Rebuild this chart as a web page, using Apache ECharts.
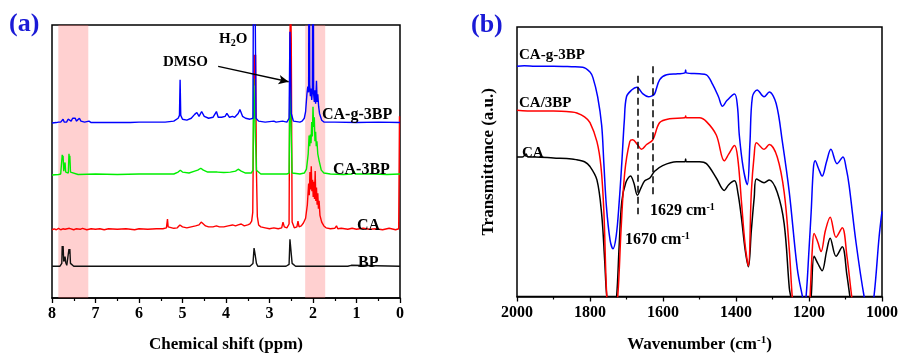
<!DOCTYPE html>
<html>
<head>
<meta charset="utf-8">
<script src="https://cdn.jsdelivr.net/npm/echarts@6/dist/echarts.min.js"></script>
<style>
  html, body { margin: 0; padding: 0; background: #fff; }
  #chart { width: 901px; height: 358px; }
</style>
</head>
<body>
<div id="chart"></div>
<script>
// ---------- (a) 1H NMR spectra: [chemical shift (ppm), intensity above baseline] ----------
const nmrOffsets = { BP: 33, CA: 71, CA3BP: 128, CAg3BP: 182 };

const nmrBP = [
  [8.0, 0], [7.82, 0], [7.79, 1], [7.775, 3], [7.765, 21], [7.755, 16], [7.745, 21], [7.73, 5],
  [7.715, 4], [7.70, 10], [7.685, 4], [7.66, 1], [7.625, 2], [7.61, 18], [7.60, 13], [7.59, 18],
  [7.575, 3], [7.55, 1], [7.5, 0], [6.0, 0], [4.0, 0], [3.45, 0], [3.41, 1], [3.38, 3], [3.355, 19],
  [3.34, 15], [3.325, 17], [3.30, 3], [3.27, 0], [2.62, 0], [2.58, 1], [2.55, 2], [2.53, 28],
  [2.515, 26], [2.50, 27], [2.48, 3], [2.45, 1], [2.40, 0], [1.2, 0], [1.12, 1], [1.10, 0], [0, 0]
];

const nmrCA = [
  [8.0, 0], [7.95, 1], [7.9, 0], [7.85, 1.5], [7.8, 0], [7.75, 1], [7.7, 0.5], [7.6, 1.5], [7.5, 0],
  [7.45, 1], [7.35, 0.5], [7.3, 1.5], [7.2, 0], [7.1, 1], [7.0, 0.5], [6.9, 1], [6.8, 0], [6.7, 1],
  [6.5, 0.5], [6.3, 1], [6.1, 0], [6.0, 1], [5.8, 0.5], [5.6, 1], [5.45, 1], [5.37, 2], [5.345, 11],
  [5.33, 3], [5.3, 1], [5.2, 1.5], [5.12, 2], [5.06, 5], [5.0, 3], [4.9, 2], [4.8, 3], [4.7, 4],
  [4.62, 5], [4.57, 8], [4.53, 7], [4.47, 4], [4.4, 3], [4.3, 3], [4.22, 4], [4.15, 3], [4.05, 3],
  [3.95, 4], [3.85, 5], [3.78, 4], [3.72, 5], [3.65, 6], [3.58, 4], [3.5, 5], [3.45, 6], [3.41, 9],
  [3.385, 18], [3.365, 120], [3.35, 182], [3.335, 150], [3.32, 182], [3.30, 60], [3.28, 14],
  [3.25, 5], [3.2, 3], [3.1, 2], [3.0, 1], [2.9, 2], [2.8, 1], [2.72, 2], [2.69, 8], [2.66, 3],
  [2.6, 2], [2.55, 6], [2.53, 200], [2.515, 240], [2.50, 200], [2.48, 8], [2.43, 2], [2.37, 3],
  [2.345, 9], [2.32, 3], [2.27, 4], [2.22, 7], [2.17, 12], [2.13, 26], [2.10, 48], [2.085, 36],
  [2.07, 60], [2.055, 42], [2.04, 66], [2.025, 40], [2.01, 52], [1.995, 34], [1.98, 50], [1.965, 32],
  [1.95, 61], [1.935, 30], [1.92, 44], [1.905, 26], [1.89, 38], [1.875, 22], [1.86, 30], [1.84, 15],
  [1.80, 8], [1.75, 4], [1.7, 2], [1.6, 1], [1.5, 1.5], [1.46, 4], [1.43, 1], [1.35, 1.5], [1.2, 0.5],
  [1.1, 1.5], [1.0, 0.5], [0.85, 1.5], [0.7, 0.5], [0.55, 1], [0.4, 0], [0.25, 1.5], [0.1, 0],
  [0.03, 1], [0.012, 118], [0.0, 118]
];

const nmrCA3BP = [
  [8.0, 0], [7.85, 0.5], [7.8, 1], [7.775, 3], [7.765, 21], [7.755, 17], [7.745, 20], [7.73, 4],
  [7.715, 3], [7.70, 13], [7.685, 3], [7.65, 1], [7.625, 2], [7.61, 22], [7.60, 17], [7.59, 20],
  [7.575, 3], [7.55, 1], [7.4, 0.5], [7.0, 1], [6.5, 0.5], [6.0, 1], [5.5, 1], [5.2, 1], [5.1, 3],
  [5.05, 5], [5.0, 3], [4.85, 2], [4.72, 4], [4.65, 5], [4.58, 7], [4.52, 5], [4.42, 3], [4.3, 3],
  [4.2, 3], [4.05, 2.5], [3.9, 3], [3.78, 4], [3.72, 6], [3.65, 4], [3.55, 2], [3.42, 2], [3.38, 5],
  [3.365, 100], [3.32, 100], [3.30, 5], [3.2, 1], [3.0, 1], [2.8, 1], [2.6, 1], [2.55, 2],
  [2.53, 100], [2.50, 100], [2.48, 2], [2.3, 1], [2.2, 2], [2.15, 6], [2.11, 22], [2.09, 41],
  [2.075, 30], [2.06, 42], [2.045, 33], [2.03, 55], [2.015, 40], [2.0, 71], [1.985, 50], [1.97, 60],
  [1.955, 35], [1.94, 45], [1.925, 30], [1.91, 35], [1.89, 22], [1.86, 15], [1.81, 5], [1.75, 2],
  [1.6, 1], [1.3, 0.5], [1.1, 1], [1.06, 4], [1.03, 1], [0.6, 1], [0.3, 0.5], [0, 1]
];

const nmrCAg3BP = [
  [8.0, 0], [7.9, 0.5], [7.85, 1], [7.825, 3], [7.8, 1], [7.765, 2], [7.745, 4], [7.72, 1],
  [7.69, 3], [7.665, 1], [7.63, 4], [7.61, 2], [7.585, 5], [7.56, 2], [7.525, 5], [7.5, 3],
  [7.465, 5], [7.44, 2], [7.405, 4], [7.37, 5], [7.335, 2], [7.3, 3], [7.25, 1], [7.15, 2],
  [7.1, 0.5], [7.0, 0.5], [6.5, 0.5], [6.2, 0.5], [6.0, 1], [5.5, 1], [5.4, 1], [5.2, 2], [5.1, 5],
  [5.07, 8], [5.055, 45], [5.04, 8], [5.0, 4], [4.9, 3], [4.8, 5], [4.72, 9], [4.67, 11], [4.62, 7],
  [4.56, 12], [4.5, 7], [4.4, 5], [4.3, 6], [4.22, 12], [4.18, 6], [4.1, 6], [4.02, 7], [3.98, 10],
  [3.92, 6], [3.85, 7], [3.8, 6], [3.72, 10], [3.68, 14], [3.62, 7], [3.55, 5], [3.45, 4],
  [3.38, 5], [3.36, 300], [3.33, 300], [3.31, 5], [3.25, 2], [3.1, 1], [2.9, 2], [2.85, 1],
  [2.7, 2], [2.6, 1], [2.55, 5], [2.53, 95], [2.515, 97], [2.5, 10], [2.45, 2], [2.3, 1],
  [2.25, 2], [2.2, 5], [2.17, 12], [2.14, 30], [2.12, 38], [2.10, 32], [2.09, 300], [2.075, 40],
  [2.06, 28], [2.045, 36], [2.03, 24], [2.015, 32], [2.0, 300], [1.985, 30], [1.97, 22],
  [1.955, 34], [1.94, 20], [1.92, 44], [1.905, 22], [1.89, 30], [1.87, 17], [1.85, 10], [1.8, 3],
  [1.75, 1], [1.5, 1], [1.0, 0.5], [0.5, 1], [0, 0.5]
];

// Highlighted aromatic / acetyl regions (ppm)
const nmrBands = [[7.855, 7.166], [2.18, 1.72]];

// DMSO arrow (ppm, a.u.)
const dmsoArrow = [[4.18, 241], [2.56, 225]];

// ---------- (b) FTIR spectra: [wavenumber (cm-1), transmittance (a.u.)] ----------
const ftirCAg3BP = [
  [2000, 241], [1980, 241.5], [1950, 241], [1900, 241], [1850, 240.5], [1820, 240], [1800, 235],
  [1792, 229], [1779, 209], [1768, 179], [1762, 139], [1755, 94], [1745, 59], [1737, 50],
  [1728, 64], [1720, 99], [1713, 139], [1706, 184], [1700, 209], [1686, 216], [1672, 219],
  [1655, 212], [1640, 209], [1630, 210], [1623, 212], [1609, 227], [1590, 232], [1560, 233],
  [1540, 234], [1538, 237], [1536, 234], [1500, 233], [1481, 232], [1464, 222], [1448, 209],
  [1437, 199], [1425, 205], [1404, 212], [1396, 199], [1391, 169], [1380, 134], [1369, 117],
  [1362, 159], [1355, 209], [1342, 216], [1323, 209], [1309, 214], [1290, 202], [1273, 162],
  [1254, 109], [1232, 29], [1218, 0], [1213, -8], [1208, 0], [1200, 49], [1194, 89], [1188, 134],
  [1183, 142], [1174, 134], [1164, 126], [1152, 141], [1140, 154], [1123, 139], [1107, 146],
  [1098, 134], [1090, 116], [1071, 56], [1049, 0], [1040, -11], [1030, -11], [1022, 0],
  [1008, 62], [1000, 89]
];

const ftirCA3BP = [
  [2000, 195], [1950, 194], [1900, 194], [1850, 193], [1836, 192], [1815, 188], [1800, 182],
  [1781, 162], [1770, 136], [1762, 89], [1754, 0], [1745, -31], [1735, -31], [1724, 0],
  [1715, 69], [1705, 129], [1691, 162], [1683, 164], [1670, 159], [1659, 154], [1645, 159],
  [1628, 164], [1609, 182], [1582, 186], [1540, 187], [1538, 189], [1536, 187], [1500, 187],
  [1481, 183], [1454, 169], [1432, 142], [1420, 149], [1404, 158], [1395, 144], [1385, 99],
  [1375, 54], [1366, 32], [1358, 109], [1350, 149], [1344, 161], [1323, 154], [1309, 159],
  [1287, 146], [1268, 109], [1254, 49], [1246, 0], [1240, -21], [1200, -21], [1197, 0],
  [1191, 49], [1186, 66], [1176, 57], [1167, 47], [1155, 69], [1142, 83], [1126, 62], [1109, 72],
  [1096, 42], [1083, 0], [1075, -21], [1000, -21]
];

const ftirCA = [
  [2000, 146], [1985, 146], [1975, 149], [1970, 146], [1950, 146], [1900, 145], [1850, 144],
  [1836, 143], [1815, 141], [1800, 136], [1781, 122], [1768, 86], [1760, 39], [1754, 0],
  [1745, -21], [1735, -21], [1727, 0], [1720, 54], [1713, 99], [1702, 119], [1689, 126],
  [1680, 119], [1670, 106], [1660, 114], [1650, 121], [1636, 124], [1623, 131], [1601, 137],
  [1563, 141], [1540, 141], [1538, 144], [1536, 141], [1500, 141], [1481, 139], [1454, 124],
  [1432, 111], [1420, 117], [1404, 121], [1395, 109], [1385, 82], [1375, 49], [1366, 31],
  [1358, 69], [1350, 104], [1344, 123], [1323, 119], [1309, 122], [1287, 109], [1268, 76],
  [1254, 9], [1250, 0], [1240, -21], [1200, -21], [1194, 0], [1186, 42], [1175, 34], [1164, 27],
  [1152, 47], [1142, 61], [1126, 42], [1109, 52], [1096, 22], [1088, 0], [1080, -21], [1000, -21]
];

// Marked band positions (cm-1) with dashed guide extents (a.u.)
const ftirGuides = [[1670, 231, 86], [1629, 241, 106]];

const nmrTicks = { min: 0, max: 8, step: 1 };
const ftirTicks = { min: 1000, max: 2000, step: 200 };

// ---------- chart ----------
const serif = 'Liberation Serif';
const BLACK = '#000';

function shift(data, off) {
  return data.map(p => [p[0], p[1] + off]);
}

function nmrSeries(name, data, off, color) {
  return {
    name, type: 'line', xAxisIndex: 0, yAxisIndex: 0,
    data: shift(data, off), showSymbol: false, symbol: 'none',
    lineStyle: { color, width: 1.4 }, clip: true, animation: false, z: 2
  };
}

function ftirSeries(name, data, color) {
  return {
    name, type: 'line', xAxisIndex: 1, yAxisIndex: 1,
    data, showSymbol: false, symbol: 'none', smooth: 0.35,
    lineStyle: { color, width: 1.5 }, clip: true, animation: false, z: 2
  };
}

const supRich = {
  sup: { fontSize: 10, fontWeight: 'bold', fontFamily: serif, verticalAlign: 'top', padding: [0, 0, 8, 0] },
  sub: { fontSize: 10, fontWeight: 'bold', fontFamily: serif, verticalAlign: 'bottom', padding: [8, 0, 0, 0] }
};

function label(x, y, text, size, color) {
  return {
    type: 'text', left: x, top: y - size / 2 - 1, z: 100,
    style: {
      text, fontFamily: serif, fontWeight: 'bold', fontSize: size, fill: color || BLACK,
      rich: supRich
    }
  };
}

const axisLabelStyle = {
  fontFamily: serif, fontWeight: 'bold', fontSize: 16, color: BLACK, margin: 8,
  formatter: v => String(v)
};
const axisNameStyle = { fontFamily: serif, fontWeight: 'bold', fontSize: 17, color: BLACK, rich: {
  sup: { fontSize: 11, fontWeight: 'bold', fontFamily: serif, verticalAlign: 'top', padding: [0, 0, 9, 0] }
} };

const option = {
  backgroundColor: '#fff',
  animation: false,
  grid: [
    { left: 52, top: 25, width: 348, height: 284, show: true, borderColor: BLACK, borderWidth: 1.5, backgroundColor: 'transparent' },
    { left: 517, top: 27, width: 366, height: 282, show: true, borderColor: BLACK, borderWidth: 1.5, backgroundColor: 'transparent' }
  ],
  xAxis: [
    {
      type: 'value', gridIndex: 0, min: nmrTicks.min, max: nmrTicks.max, interval: nmrTicks.step, inverse: true,
      name: 'Chemical shift (ppm)', nameLocation: 'middle', nameGap: 38, nameTextStyle: axisNameStyle,
      axisLine: { show: true, lineStyle: { color: BLACK, width: 1.5 } },
      axisTick: { show: true, inside: false, length: 5, lineStyle: { color: BLACK, width: 1.3 } },
      minorTick: { show: true, splitNumber: 2, length: 3, lineStyle: { color: BLACK, width: 1.2 } },
      axisLabel: axisLabelStyle, splitLine: { show: false }
    },
    {
      type: 'value', gridIndex: 1, min: ftirTicks.min, max: ftirTicks.max, interval: ftirTicks.step, inverse: true,
      name: 'Wavenumber (cm{sup|-1})', nameLocation: 'middle', nameGap: 38, nameTextStyle: axisNameStyle,
      axisLine: { show: true, lineStyle: { color: BLACK, width: 1.5 } },
      axisTick: { show: true, inside: false, length: 5, lineStyle: { color: BLACK, width: 1.3 } },
      minorTick: { show: true, splitNumber: 2, length: 3, lineStyle: { color: BLACK, width: 1.2 } },
      axisLabel: axisLabelStyle, splitLine: { show: false }
    }
  ],
  yAxis: [
    {
      type: 'value', gridIndex: 0, min: 0, max: 284, show: false, splitLine: { show: false }
    },
    {
      type: 'value', gridIndex: 1, min: 0, max: 282,
      name: 'Transmittance (a.u.)', nameLocation: 'middle', nameGap: 20, nameRotate: 90,
      nameTextStyle: axisNameStyle,
      axisLine: { show: false }, axisTick: { show: false }, axisLabel: { show: false }, splitLine: { show: false }
    }
  ],
  series: [
    nmrSeries('BP', nmrBP, nmrOffsets.BP, '#111111'),
    nmrSeries('CA', nmrCA, nmrOffsets.CA, '#ff0000'),
    nmrSeries('CA-3BP', nmrCA3BP, nmrOffsets.CA3BP, '#00ee00'),
    nmrSeries('CA-g-3BP', nmrCAg3BP, nmrOffsets.CAg3BP, '#0000ff'),
    {
      // shaded regions laid over the spectra, plus the DMSO arrow
      name: 'bands', type: 'line', xAxisIndex: 0, yAxisIndex: 0, data: [], z: 4, silent: true,
      markArea: {
        silent: true,
        itemStyle: { color: 'rgba(255, 110, 110, 0.32)' },
        data: nmrBands.map(b => [{ xAxis: b[0] }, { xAxis: b[1] }])
      },
      markLine: {
        silent: true, symbol: ['none', 'arrow'], symbolSize: [7, 10], animation: false,
        lineStyle: { color: BLACK, width: 1.4, type: 'solid' }, label: { show: false },
        data: [[{ coord: dmsoArrow[0] }, { coord: dmsoArrow[1] }]]
      }
    },
    ftirSeries('CA', ftirCA, '#000000'),
    ftirSeries('CA/3BP', ftirCA3BP, '#ff0000'),
    ftirSeries('CA-g-3BP', ftirCAg3BP, '#0000ff'),
    {
      name: 'guides', type: 'line', xAxisIndex: 1, yAxisIndex: 1, data: [], z: 4, silent: true,
      markLine: {
        silent: true, symbol: 'none', animation: false,
        lineStyle: { color: BLACK, width: 1.5, type: [7, 4] }, label: { show: false },
        data: ftirGuides.map(g => [{ coord: [g[0], g[1]] }, { coord: [g[0], g[2]] }])
      }
    }
  ],
  graphic: [
    label(9, 25, '(a)', 26, '#1a1ad6'),
    label(471, 26, '(b)', 26, '#1a1ad6'),
    label(219, 40, 'H{sub|2}O', 15),
    label(163, 63, 'DMSO', 15),
    label(322, 116, 'CA-g-3BP', 16),
    label(333, 171, 'CA-3BP', 16),
    label(357, 227, 'CA', 16),
    label(358, 264, 'BP', 16),
    label(519, 56, 'CA-g-3BP', 15),
    label(519, 104, 'CA/3BP', 15),
    label(522, 154, 'CA', 15),
    label(650, 211, '1629 cm{sup|-1}', 16),
    label(625, 240, '1670 cm{sup|-1}', 16)
  ]
};

const chart = echarts.init(document.getElementById('chart'), null, { renderer: 'canvas' });
chart.setOption(option);
</script>
</body>
</html>
